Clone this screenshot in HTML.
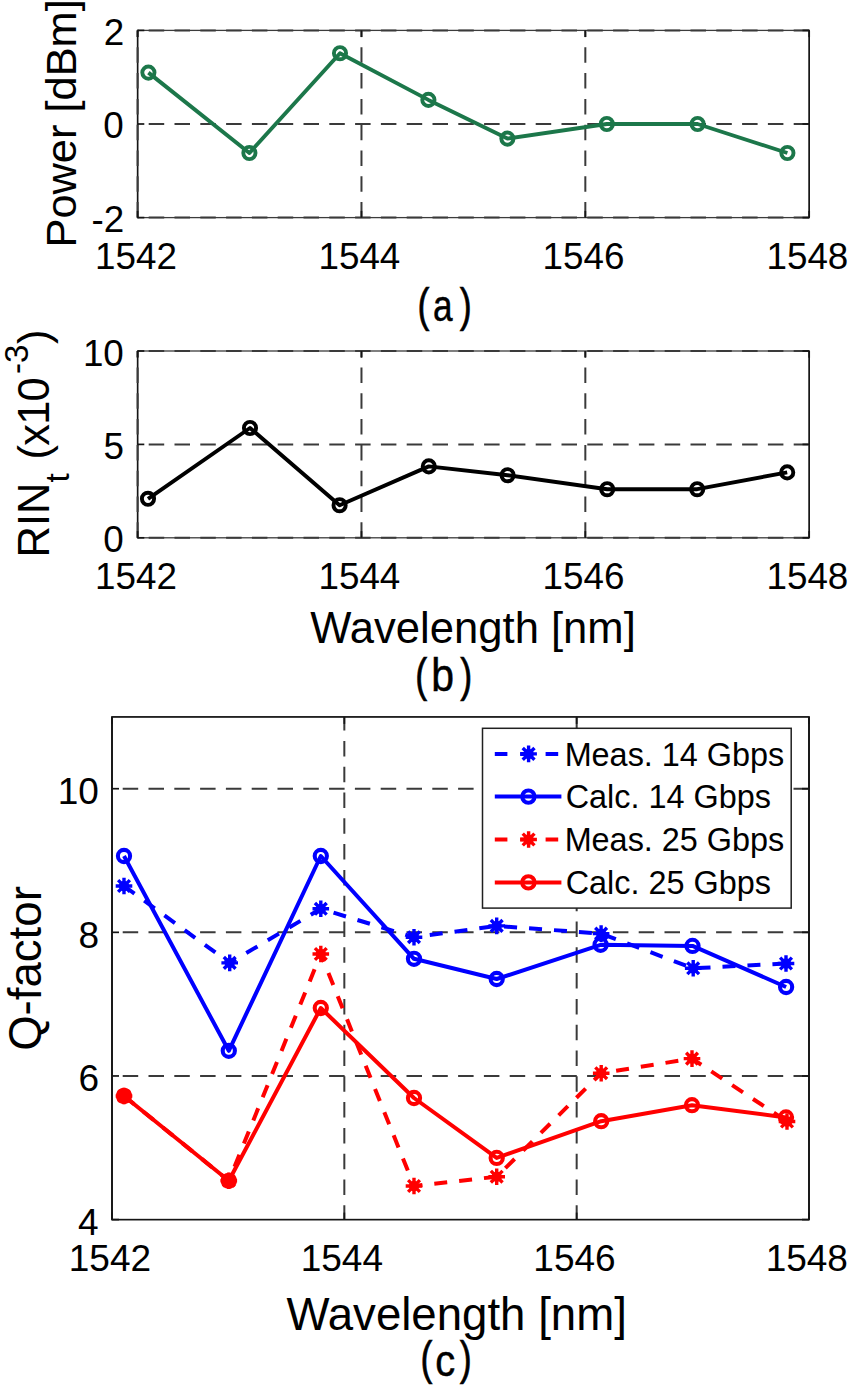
<!DOCTYPE html>
<html><head><meta charset="utf-8"><style>
html,body{margin:0;padding:0;background:#fff;}
body{width:850px;height:1386px;overflow:hidden;}
svg{display:block;}
</style></head><body>
<svg width="850" height="1386" viewBox="0 0 850 1386" font-family='"Liberation Sans", sans-serif' fill="#000">
<rect width="850" height="1386" fill="#fff"/>
<rect x="137.60" y="30.40" width="671.60" height="187.20" fill="none" stroke="#3c3c3c" stroke-width="1.3"/>
<line x1="809.20" y1="217.60" x2="809.20" y2="30.40" stroke="#151515" stroke-width="1.5"/>
<line x1="137.60" y1="217.60" x2="137.60" y2="30.40" stroke="#151515" stroke-width="1.5"/>
<line x1="137.60" y1="217.60" x2="137.60" y2="30.40" stroke="#3a3a3a" stroke-width="2" stroke-dasharray="15.5 10.3" stroke-dashoffset="0"/>
<line x1="361.47" y1="217.60" x2="361.47" y2="30.40" stroke="#3a3a3a" stroke-width="2" stroke-dasharray="15.5 10.3" stroke-dashoffset="0"/>
<line x1="585.33" y1="217.60" x2="585.33" y2="30.40" stroke="#3a3a3a" stroke-width="2" stroke-dasharray="15.5 10.3" stroke-dashoffset="0"/>
<line x1="809.20" y1="217.60" x2="137.60" y2="217.60" stroke="#3a3a3a" stroke-width="2" stroke-dasharray="15.5 10.3"/>
<line x1="809.20" y1="124.00" x2="137.60" y2="124.00" stroke="#3a3a3a" stroke-width="2" stroke-dasharray="15.5 10.3"/>
<line x1="809.20" y1="30.40" x2="137.60" y2="30.40" stroke="#3a3a3a" stroke-width="2" stroke-dasharray="15.5 10.3"/>
<line x1="137.60" y1="217.60" x2="137.60" y2="210.90" stroke="#151515" stroke-width="1.7"/>
<line x1="137.60" y1="30.40" x2="137.60" y2="37.10" stroke="#151515" stroke-width="1.7"/>
<line x1="361.47" y1="217.60" x2="361.47" y2="210.90" stroke="#151515" stroke-width="1.7"/>
<line x1="361.47" y1="30.40" x2="361.47" y2="37.10" stroke="#151515" stroke-width="1.7"/>
<line x1="585.33" y1="217.60" x2="585.33" y2="210.90" stroke="#151515" stroke-width="1.7"/>
<line x1="585.33" y1="30.40" x2="585.33" y2="37.10" stroke="#151515" stroke-width="1.7"/>
<line x1="809.20" y1="217.60" x2="809.20" y2="210.90" stroke="#151515" stroke-width="1.7"/>
<line x1="809.20" y1="30.40" x2="809.20" y2="37.10" stroke="#151515" stroke-width="1.7"/>
<line x1="137.60" y1="217.60" x2="144.30" y2="217.60" stroke="#151515" stroke-width="1.7"/>
<line x1="809.20" y1="217.60" x2="802.50" y2="217.60" stroke="#151515" stroke-width="1.7"/>
<line x1="137.60" y1="124.00" x2="144.30" y2="124.00" stroke="#151515" stroke-width="1.7"/>
<line x1="809.20" y1="124.00" x2="802.50" y2="124.00" stroke="#151515" stroke-width="1.7"/>
<line x1="137.60" y1="30.40" x2="144.30" y2="30.40" stroke="#151515" stroke-width="1.7"/>
<line x1="809.20" y1="30.40" x2="802.50" y2="30.40" stroke="#151515" stroke-width="1.7"/>
<text x="94.99" y="269.00" font-size="36.8">1542</text>
<text x="318.47" y="269.00" font-size="36.8">1544</text>
<text x="542.61" y="269.00" font-size="36.8">1546</text>
<text x="766.47" y="269.00" font-size="36.8">1548</text>
<text x="91.53" y="232.00" font-size="36.8">-2</text>
<text x="103.37" y="138.40" font-size="36.8">0</text>
<text x="103.78" y="44.80" font-size="36.8">2</text>
<polyline points="148.40,72.60 249.40,153.00 340.00,53.20 428.40,99.90 507.40,138.60 606.80,124.00 697.60,124.00 787.40,153.00" fill="none" stroke="#1c774a" stroke-width="3.9" stroke-linejoin="round"/>
<circle cx="148.40" cy="72.60" r="6.1" fill="none" stroke="#1c774a" stroke-width="3.9"/>
<circle cx="249.40" cy="153.00" r="6.1" fill="none" stroke="#1c774a" stroke-width="3.9"/>
<circle cx="340.00" cy="53.20" r="6.1" fill="none" stroke="#1c774a" stroke-width="3.9"/>
<circle cx="428.40" cy="99.90" r="6.1" fill="none" stroke="#1c774a" stroke-width="3.9"/>
<circle cx="507.40" cy="138.60" r="6.1" fill="none" stroke="#1c774a" stroke-width="3.9"/>
<circle cx="606.80" cy="124.00" r="6.1" fill="none" stroke="#1c774a" stroke-width="3.9"/>
<circle cx="697.60" cy="124.00" r="6.1" fill="none" stroke="#1c774a" stroke-width="3.9"/>
<circle cx="787.40" cy="153.00" r="6.1" fill="none" stroke="#1c774a" stroke-width="3.9"/>
<rect x="137.60" y="351.00" width="671.60" height="186.80" fill="none" stroke="#3c3c3c" stroke-width="1.3"/>
<line x1="809.20" y1="537.80" x2="809.20" y2="351.00" stroke="#151515" stroke-width="1.5"/>
<line x1="137.60" y1="537.80" x2="137.60" y2="351.00" stroke="#151515" stroke-width="1.5"/>
<line x1="137.60" y1="537.80" x2="137.60" y2="351.00" stroke="#3a3a3a" stroke-width="2" stroke-dasharray="15.5 10.3" stroke-dashoffset="0"/>
<line x1="361.47" y1="537.80" x2="361.47" y2="351.00" stroke="#3a3a3a" stroke-width="2" stroke-dasharray="15.5 10.3" stroke-dashoffset="0"/>
<line x1="585.33" y1="537.80" x2="585.33" y2="351.00" stroke="#3a3a3a" stroke-width="2" stroke-dasharray="15.5 10.3" stroke-dashoffset="0"/>
<line x1="809.20" y1="537.80" x2="137.60" y2="537.80" stroke="#3a3a3a" stroke-width="2" stroke-dasharray="15.5 10.3"/>
<line x1="809.20" y1="444.40" x2="137.60" y2="444.40" stroke="#3a3a3a" stroke-width="2" stroke-dasharray="15.5 10.3"/>
<line x1="809.20" y1="351.00" x2="137.60" y2="351.00" stroke="#3a3a3a" stroke-width="2" stroke-dasharray="15.5 10.3"/>
<line x1="137.60" y1="537.80" x2="137.60" y2="531.10" stroke="#151515" stroke-width="1.7"/>
<line x1="137.60" y1="351.00" x2="137.60" y2="357.70" stroke="#151515" stroke-width="1.7"/>
<line x1="361.47" y1="537.80" x2="361.47" y2="531.10" stroke="#151515" stroke-width="1.7"/>
<line x1="361.47" y1="351.00" x2="361.47" y2="357.70" stroke="#151515" stroke-width="1.7"/>
<line x1="585.33" y1="537.80" x2="585.33" y2="531.10" stroke="#151515" stroke-width="1.7"/>
<line x1="585.33" y1="351.00" x2="585.33" y2="357.70" stroke="#151515" stroke-width="1.7"/>
<line x1="809.20" y1="537.80" x2="809.20" y2="531.10" stroke="#151515" stroke-width="1.7"/>
<line x1="809.20" y1="351.00" x2="809.20" y2="357.70" stroke="#151515" stroke-width="1.7"/>
<line x1="137.60" y1="537.80" x2="144.30" y2="537.80" stroke="#151515" stroke-width="1.7"/>
<line x1="809.20" y1="537.80" x2="802.50" y2="537.80" stroke="#151515" stroke-width="1.7"/>
<line x1="137.60" y1="444.40" x2="144.30" y2="444.40" stroke="#151515" stroke-width="1.7"/>
<line x1="809.20" y1="444.40" x2="802.50" y2="444.40" stroke="#151515" stroke-width="1.7"/>
<line x1="137.60" y1="351.00" x2="144.30" y2="351.00" stroke="#151515" stroke-width="1.7"/>
<line x1="809.20" y1="351.00" x2="802.50" y2="351.00" stroke="#151515" stroke-width="1.7"/>
<text x="94.99" y="589.00" font-size="36.8">1542</text>
<text x="318.47" y="589.00" font-size="36.8">1544</text>
<text x="542.61" y="589.00" font-size="36.8">1546</text>
<text x="766.47" y="589.00" font-size="36.8">1548</text>
<text x="103.37" y="552.40" font-size="36.8">0</text>
<text x="103.48" y="459.00" font-size="36.8">5</text>
<text x="82.90" y="365.60" font-size="36.8">10</text>
<polyline points="148.00,498.80 250.00,428.00 339.60,505.20 428.80,466.40 507.60,475.20 607.20,489.20 697.20,489.20 787.20,472.40" fill="none" stroke="#000" stroke-width="3.9" stroke-linejoin="round"/>
<circle cx="148.00" cy="498.80" r="6.1" fill="none" stroke="#000" stroke-width="3.9"/>
<circle cx="250.00" cy="428.00" r="6.1" fill="none" stroke="#000" stroke-width="3.9"/>
<circle cx="339.60" cy="505.20" r="6.1" fill="none" stroke="#000" stroke-width="3.9"/>
<circle cx="428.80" cy="466.40" r="6.1" fill="none" stroke="#000" stroke-width="3.9"/>
<circle cx="507.60" cy="475.20" r="6.1" fill="none" stroke="#000" stroke-width="3.9"/>
<circle cx="607.20" cy="489.20" r="6.1" fill="none" stroke="#000" stroke-width="3.9"/>
<circle cx="697.20" cy="489.20" r="6.1" fill="none" stroke="#000" stroke-width="3.9"/>
<circle cx="787.20" cy="472.40" r="6.1" fill="none" stroke="#000" stroke-width="3.9"/>
<rect x="112.00" y="716.90" width="697.00" height="502.70" fill="none" stroke="#3c3c3c" stroke-width="1.3"/>
<line x1="809.00" y1="1219.60" x2="809.00" y2="716.90" stroke="#151515" stroke-width="1.5"/>
<line x1="112.00" y1="1219.60" x2="112.00" y2="716.90" stroke="#151515" stroke-width="1.5"/>
<line x1="344.33" y1="1219.60" x2="344.33" y2="716.90" stroke="#3a3a3a" stroke-width="2" stroke-dasharray="15.5 10.3" stroke-dashoffset="1.2"/>
<line x1="576.67" y1="1219.60" x2="576.67" y2="716.90" stroke="#3a3a3a" stroke-width="2" stroke-dasharray="15.5 10.3" stroke-dashoffset="1.2"/>
<line x1="809.00" y1="1075.97" x2="112.00" y2="1075.97" stroke="#3a3a3a" stroke-width="2" stroke-dasharray="15.5 10.3"/>
<line x1="809.00" y1="932.34" x2="112.00" y2="932.34" stroke="#3a3a3a" stroke-width="2" stroke-dasharray="15.5 10.3"/>
<line x1="809.00" y1="788.71" x2="112.00" y2="788.71" stroke="#3a3a3a" stroke-width="2" stroke-dasharray="15.5 10.3"/>
<rect x="112.00" y="716.90" width="697.00" height="502.70" fill="none" stroke="#151515" stroke-width="1.5"/>
<line x1="112.00" y1="1219.60" x2="112.00" y2="1212.60" stroke="#151515" stroke-width="1.7"/>
<line x1="112.00" y1="716.90" x2="112.00" y2="723.90" stroke="#151515" stroke-width="1.7"/>
<line x1="344.33" y1="1219.60" x2="344.33" y2="1212.60" stroke="#151515" stroke-width="1.7"/>
<line x1="344.33" y1="716.90" x2="344.33" y2="723.90" stroke="#151515" stroke-width="1.7"/>
<line x1="576.67" y1="1219.60" x2="576.67" y2="1212.60" stroke="#151515" stroke-width="1.7"/>
<line x1="576.67" y1="716.90" x2="576.67" y2="723.90" stroke="#151515" stroke-width="1.7"/>
<line x1="809.00" y1="1219.60" x2="809.00" y2="1212.60" stroke="#151515" stroke-width="1.7"/>
<line x1="809.00" y1="716.90" x2="809.00" y2="723.90" stroke="#151515" stroke-width="1.7"/>
<line x1="112.00" y1="1219.60" x2="119.00" y2="1219.60" stroke="#151515" stroke-width="1.7"/>
<line x1="809.00" y1="1219.60" x2="802.00" y2="1219.60" stroke="#151515" stroke-width="1.7"/>
<line x1="112.00" y1="1075.97" x2="119.00" y2="1075.97" stroke="#151515" stroke-width="1.7"/>
<line x1="809.00" y1="1075.97" x2="802.00" y2="1075.97" stroke="#151515" stroke-width="1.7"/>
<line x1="112.00" y1="932.34" x2="119.00" y2="932.34" stroke="#151515" stroke-width="1.7"/>
<line x1="809.00" y1="932.34" x2="802.00" y2="932.34" stroke="#151515" stroke-width="1.7"/>
<line x1="112.00" y1="788.71" x2="119.00" y2="788.71" stroke="#151515" stroke-width="1.7"/>
<line x1="809.00" y1="788.71" x2="802.00" y2="788.71" stroke="#151515" stroke-width="1.7"/>
<text x="68.77" y="1270.50" font-size="37">1542</text>
<text x="300.71" y="1270.50" font-size="37">1544</text>
<text x="533.32" y="1270.50" font-size="37">1546</text>
<text x="765.64" y="1270.50" font-size="37">1548</text>
<text x="77.91" y="1235.10" font-size="37">4</text>
<text x="78.45" y="1091.47" font-size="37">6</text>
<text x="78.43" y="947.84" font-size="37">8</text>
<text x="57.69" y="804.21" font-size="37">10</text>
<polyline points="124.00,886.00 229.70,962.90 320.80,908.80 414.00,937.20 496.70,925.90 601.10,933.60 693.20,968.30 786.00,963.50" fill="none" stroke="#0000ff" stroke-width="4.0" stroke-linejoin="round" stroke-dasharray="13 12"/>
<path d="M115.70,886.00L132.30,886.00M118.13,880.13L129.87,891.87M124.00,877.70L124.00,894.30M129.87,880.13L118.13,891.87" stroke="#0000ff" stroke-width="3.4" fill="none"/>
<circle cx="124.00" cy="886.00" r="5.15" fill="#0000ff"/>
<path d="M221.40,962.90L238.00,962.90M223.83,957.03L235.57,968.77M229.70,954.60L229.70,971.20M235.57,957.03L223.83,968.77" stroke="#0000ff" stroke-width="3.4" fill="none"/>
<circle cx="229.70" cy="962.90" r="5.15" fill="#0000ff"/>
<path d="M312.50,908.80L329.10,908.80M314.93,902.93L326.67,914.67M320.80,900.50L320.80,917.10M326.67,902.93L314.93,914.67" stroke="#0000ff" stroke-width="3.4" fill="none"/>
<circle cx="320.80" cy="908.80" r="5.15" fill="#0000ff"/>
<path d="M405.70,937.20L422.30,937.20M408.13,931.33L419.87,943.07M414.00,928.90L414.00,945.50M419.87,931.33L408.13,943.07" stroke="#0000ff" stroke-width="3.4" fill="none"/>
<circle cx="414.00" cy="937.20" r="5.15" fill="#0000ff"/>
<path d="M488.40,925.90L505.00,925.90M490.83,920.03L502.57,931.77M496.70,917.60L496.70,934.20M502.57,920.03L490.83,931.77" stroke="#0000ff" stroke-width="3.4" fill="none"/>
<circle cx="496.70" cy="925.90" r="5.15" fill="#0000ff"/>
<path d="M592.80,933.60L609.40,933.60M595.23,927.73L606.97,939.47M601.10,925.30L601.10,941.90M606.97,927.73L595.23,939.47" stroke="#0000ff" stroke-width="3.4" fill="none"/>
<circle cx="601.10" cy="933.60" r="5.15" fill="#0000ff"/>
<path d="M684.90,968.30L701.50,968.30M687.33,962.43L699.07,974.17M693.20,960.00L693.20,976.60M699.07,962.43L687.33,974.17" stroke="#0000ff" stroke-width="3.4" fill="none"/>
<circle cx="693.20" cy="968.30" r="5.15" fill="#0000ff"/>
<path d="M777.70,963.50L794.30,963.50M780.13,957.63L791.87,969.37M786.00,955.20L786.00,971.80M791.87,957.63L780.13,969.37" stroke="#0000ff" stroke-width="3.4" fill="none"/>
<circle cx="786.00" cy="963.50" r="5.15" fill="#0000ff"/>
<polyline points="124.00,856.00 228.80,1050.80 320.80,856.00 414.00,958.80 496.70,979.00 600.60,944.80 692.50,945.90 786.10,987.00" fill="none" stroke="#0000ff" stroke-width="4.0" stroke-linejoin="round"/>
<circle cx="124.00" cy="856.00" r="6.1" fill="none" stroke="#0000ff" stroke-width="4.1"/>
<circle cx="228.80" cy="1050.80" r="6.1" fill="none" stroke="#0000ff" stroke-width="4.1"/>
<circle cx="320.80" cy="856.00" r="6.1" fill="none" stroke="#0000ff" stroke-width="4.1"/>
<circle cx="414.00" cy="958.80" r="6.1" fill="none" stroke="#0000ff" stroke-width="4.1"/>
<circle cx="496.70" cy="979.00" r="6.1" fill="none" stroke="#0000ff" stroke-width="4.1"/>
<circle cx="600.60" cy="944.80" r="6.1" fill="none" stroke="#0000ff" stroke-width="4.1"/>
<circle cx="692.50" cy="945.90" r="6.1" fill="none" stroke="#0000ff" stroke-width="4.1"/>
<circle cx="786.10" cy="987.00" r="6.1" fill="none" stroke="#0000ff" stroke-width="4.1"/>
<polyline points="124.00,1096.00 228.80,1180.80 320.80,954.00 414.00,1186.00 496.70,1176.70 601.20,1073.20 692.00,1058.60 787.00,1121.50" fill="none" stroke="#ff0000" stroke-width="4.0" stroke-linejoin="round" stroke-dasharray="13 12"/>
<path d="M115.70,1096.00L132.30,1096.00M118.13,1090.13L129.87,1101.87M124.00,1087.70L124.00,1104.30M129.87,1090.13L118.13,1101.87" stroke="#ff0000" stroke-width="3.4" fill="none"/>
<circle cx="124.00" cy="1096.00" r="5.15" fill="#ff0000"/>
<path d="M220.50,1180.80L237.10,1180.80M222.93,1174.93L234.67,1186.67M228.80,1172.50L228.80,1189.10M234.67,1174.93L222.93,1186.67" stroke="#ff0000" stroke-width="3.4" fill="none"/>
<circle cx="228.80" cy="1180.80" r="5.15" fill="#ff0000"/>
<path d="M312.50,954.00L329.10,954.00M314.93,948.13L326.67,959.87M320.80,945.70L320.80,962.30M326.67,948.13L314.93,959.87" stroke="#ff0000" stroke-width="3.4" fill="none"/>
<circle cx="320.80" cy="954.00" r="5.15" fill="#ff0000"/>
<path d="M405.70,1186.00L422.30,1186.00M408.13,1180.13L419.87,1191.87M414.00,1177.70L414.00,1194.30M419.87,1180.13L408.13,1191.87" stroke="#ff0000" stroke-width="3.4" fill="none"/>
<circle cx="414.00" cy="1186.00" r="5.15" fill="#ff0000"/>
<path d="M488.40,1176.70L505.00,1176.70M490.83,1170.83L502.57,1182.57M496.70,1168.40L496.70,1185.00M502.57,1170.83L490.83,1182.57" stroke="#ff0000" stroke-width="3.4" fill="none"/>
<circle cx="496.70" cy="1176.70" r="5.15" fill="#ff0000"/>
<path d="M592.90,1073.20L609.50,1073.20M595.33,1067.33L607.07,1079.07M601.20,1064.90L601.20,1081.50M607.07,1067.33L595.33,1079.07" stroke="#ff0000" stroke-width="3.4" fill="none"/>
<circle cx="601.20" cy="1073.20" r="5.15" fill="#ff0000"/>
<path d="M683.70,1058.60L700.30,1058.60M686.13,1052.73L697.87,1064.47M692.00,1050.30L692.00,1066.90M697.87,1052.73L686.13,1064.47" stroke="#ff0000" stroke-width="3.4" fill="none"/>
<circle cx="692.00" cy="1058.60" r="5.15" fill="#ff0000"/>
<path d="M778.70,1121.50L795.30,1121.50M781.13,1115.63L792.87,1127.37M787.00,1113.20L787.00,1129.80M792.87,1115.63L781.13,1127.37" stroke="#ff0000" stroke-width="3.4" fill="none"/>
<circle cx="787.00" cy="1121.50" r="5.15" fill="#ff0000"/>
<polyline points="124.00,1096.00 228.80,1180.80 320.80,1008.00 414.00,1098.00 496.70,1157.90 601.20,1121.20 692.00,1105.20 786.00,1117.40" fill="none" stroke="#ff0000" stroke-width="4.0" stroke-linejoin="round"/>
<circle cx="124.00" cy="1096.00" r="6.1" fill="none" stroke="#ff0000" stroke-width="4.1"/>
<circle cx="228.80" cy="1180.80" r="6.1" fill="none" stroke="#ff0000" stroke-width="4.1"/>
<circle cx="320.80" cy="1008.00" r="6.1" fill="none" stroke="#ff0000" stroke-width="4.1"/>
<circle cx="414.00" cy="1098.00" r="6.1" fill="none" stroke="#ff0000" stroke-width="4.1"/>
<circle cx="496.70" cy="1157.90" r="6.1" fill="none" stroke="#ff0000" stroke-width="4.1"/>
<circle cx="601.20" cy="1121.20" r="6.1" fill="none" stroke="#ff0000" stroke-width="4.1"/>
<circle cx="692.00" cy="1105.20" r="6.1" fill="none" stroke="#ff0000" stroke-width="4.1"/>
<circle cx="786.00" cy="1117.40" r="6.1" fill="none" stroke="#ff0000" stroke-width="4.1"/>
<rect x="482.5" y="728.3" width="308.7" height="179.8" fill="#fff" stroke="#202020" stroke-width="1.5"/>
<line x1="494.8" y1="753.9" x2="561.2" y2="753.9" stroke="#0000ff" stroke-width="4" stroke-dasharray="12.6 12.8"/>
<path d="M520.30,753.90L536.90,753.90M522.73,748.03L534.47,759.77M528.60,745.60L528.60,762.20M534.47,748.03L522.73,759.77" stroke="#0000ff" stroke-width="3.4" fill="none"/>
<circle cx="528.60" cy="753.90" r="5.15" fill="#0000ff"/>
<text x="564.64" y="765.50" font-size="32.4">Meas. 14 Gbps</text>
<line x1="494.8" y1="796.6" x2="561.4" y2="796.6" stroke="#0000ff" stroke-width="4"/>
<circle cx="528.4" cy="796.6" r="6.2" fill="none" stroke="#0000ff" stroke-width="4"/>
<text x="565.65" y="808.20" font-size="32.4">Calc. 14 Gbps</text>
<line x1="494.8" y1="839.5" x2="561.2" y2="839.5" stroke="#ff0000" stroke-width="4" stroke-dasharray="12.6 12.8"/>
<path d="M520.30,839.50L536.90,839.50M522.73,833.63L534.47,845.37M528.60,831.20L528.60,847.80M534.47,833.63L522.73,845.37" stroke="#ff0000" stroke-width="3.4" fill="none"/>
<circle cx="528.60" cy="839.50" r="5.15" fill="#ff0000"/>
<text x="564.64" y="851.10" font-size="32.4">Meas. 25 Gbps</text>
<line x1="494.8" y1="882.4" x2="561.4" y2="882.4" stroke="#ff0000" stroke-width="4"/>
<circle cx="528.4" cy="882.4" r="6.2" fill="none" stroke="#ff0000" stroke-width="4"/>
<text x="565.65" y="894.00" font-size="32.4">Calc. 25 Gbps</text>
<text transform="translate(76.4,247.56) rotate(-90)" font-size="43.4">Power [dBm]</text>
<text transform="translate(40.5,1050.86) rotate(-90)" font-size="45.6">Q-factor</text>
<g transform="translate(49.3,443.5) rotate(-90)">
<text x="-114" y="0" font-size="43.5">RIN</text>
<text x="-39" y="19.3" font-size="33">t</text>
<text x="-16" y="0" font-size="43.5" letter-spacing="-0.8">(x10</text>
<text x="69.5" y="-21.8" font-size="33">-3</text>
<text x="99.5" y="0" font-size="43.5">)</text>
</g>
<text x="310.31" y="643.20" font-size="43.6">Wavelength [nm]</text>
<text x="286.40" y="1330.20" font-size="45.6">Wavelength [nm]</text>
<text transform="translate(417.38,320.50) scale(0.78,1)" font-size="46" stroke="#000" stroke-width="0.7">(</text>
<text transform="translate(432.91,320.50) scale(0.79,1)" font-size="44.5" stroke="#000" stroke-width="0.5">a</text>
<text transform="translate(459.69,320.50) scale(0.78,1)" font-size="46" stroke="#000" stroke-width="0.7">)</text>
<text transform="translate(415.28,690.60) scale(0.78,1)" font-size="46" stroke="#000" stroke-width="0.7">(</text>
<text transform="translate(431.26,690.60) scale(0.9,1)" font-size="45.5" stroke="#000" stroke-width="0.5">b</text>
<text transform="translate(460.19,690.60) scale(0.78,1)" font-size="46" stroke="#000" stroke-width="0.7">)</text>
<text transform="translate(420.58,1374.00) scale(0.78,1)" font-size="46" stroke="#000" stroke-width="0.7">(</text>
<text transform="translate(435.31,1375.50) scale(0.9,1)" font-size="44.3" stroke="#000" stroke-width="0.5">c</text>
<text transform="translate(459.69,1374.00) scale(0.78,1)" font-size="46" stroke="#000" stroke-width="0.7">)</text>
</svg>
</body></html>
